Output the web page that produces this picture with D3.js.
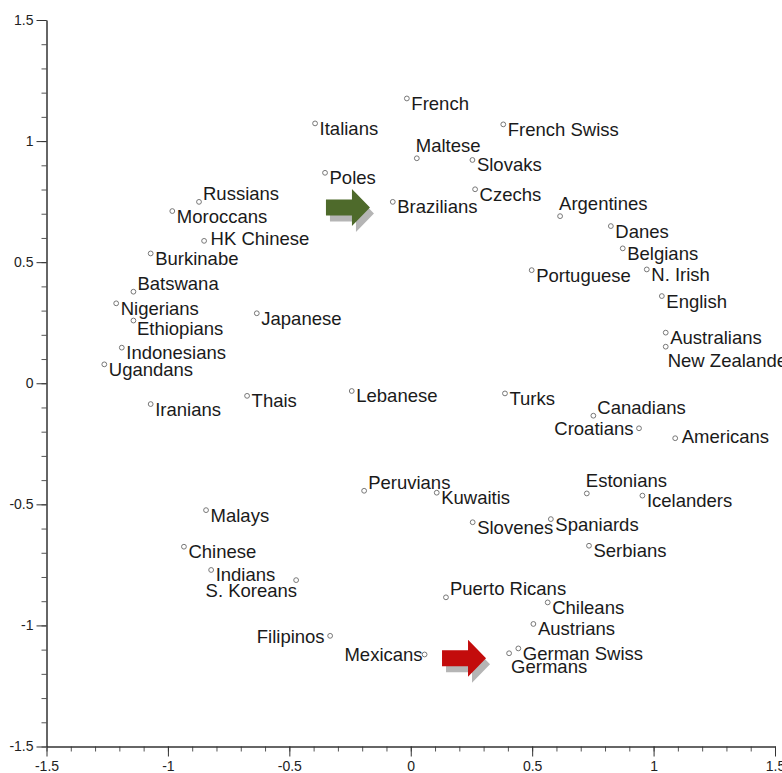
<!DOCTYPE html>
<html><head><meta charset="utf-8">
<script src="https://cdn.jsdelivr.net/npm/d3@7"></script>
<style>body{margin:0;background:#fff;} svg{display:block;}</style>
</head><body>
<script>
// ---- data ----
const countries = ["French","Italians","French Swiss","Maltese","Slovaks","Poles","Czechs","Brazilians","Russians","Moroccans",
  "Argentines","Danes","HK Chinese","Belgians","Burkinabe","Portuguese","N. Irish","Batswana","English","Nigerians",
  "Japanese","Ethiopians","Australians","New Zealanders","Indonesians","Ugandans","Lebanese","Turks","Thais","Iranians",
  "Canadians","Croatians","Americans","Peruvians","Kuwaitis","Estonians","Icelanders","Malays","Spaniards","Slovenes",
  "Serbians","Chinese","Indians","S. Koreans","Puerto Ricans","Chileans","Austrians","Filipinos","German Swiss","Germans","Mexicans"];
const dim1 = [-0.016,-0.394,0.381,0.025,0.254,-0.353,0.265,-0.074,-0.872,-0.982,
  0.615,0.824,-0.851,0.873,-1.071,0.498,0.972,-1.142,1.034,-1.213,
  -0.634,-1.142,1.050,1.050,-1.190,-1.262,-0.243,0.388,-0.674,-1.071,
  0.752,0.940,1.089,-0.192,0.107,0.725,0.954,-0.843,0.577,0.255,
  0.734,-0.934,-0.822,-0.472,0.145,0.564,0.505,-0.332,0.443,0.405,0.057];
const dim2 = [1.176,1.073,1.069,0.929,0.922,0.869,0.801,0.749,0.749,0.711,
  0.690,0.649,0.588,0.557,0.536,0.467,0.470,0.378,0.360,0.330,
  0.289,0.259,0.209,0.151,0.147,0.078,-0.032,-0.042,-0.052,-0.086,
  -0.134,-0.186,-0.227,-0.444,-0.452,-0.455,-0.464,-0.524,-0.561,-0.574,
  -0.671,-0.675,-0.771,-0.813,-0.884,-0.905,-0.994,-1.043,-1.095,-1.115,-1.120];
// label placement codes (layout, not data)
const labelPlacement = ["r","r","r","a","r","r","r","r","ur","r",
  "a","r","m","r","r","r","r","ur","r","r",
  "r","rb","r","b","r","r","r","r","r","r",
  "ur","l","m","ur","r","a","r","r","r","r",
  "r","r","r","bl","ur","r","r","l","r","b","lc"];
const xTicks = [-1.5,-1,-0.5,0,0.5,1,1.5];
const yTicks = [-1.5,-1,-0.5,0,0.5,1,1.5];
const xTickLabels = ["-1.5","-1","-0.5","0","0.5","1","1.5"];
const yTickLabels = ["-1.5","-1","-0.5","0","0.5","1","1.5"];
const minorTicks = d3.range(-15,16).map(d=>d/10);
// annotation arrows (tip positions in data units)
const arrowX = [-0.168, 0.310];
const arrowY = [0.726, -1.136];
const arrowColors = ["#4e6a2b","#c30c0c"];

// ---- layout ----
const W = 782, H = 773;
const x = d3.scaleLinear().domain([-1.5,1.5]).range([46.5,775]);
const y = d3.scaleLinear().domain([-1.5,1.5]).range([746.5,20]);
const place = {
  r:  {dx:4.5, dy:11.5, a:"start"},
  ur: {dx:4,   dy:-2,   a:"start"},
  a:  {dx:-1,  dy:-6,   a:"start"},
  m:  {dx:6.5, dy:4.5,  a:"start"},
  b:  {dx:2,   dy:20,   a:"start"},
  rb: {dx:3.5, dy:14.5, a:"start"},
  l:  {dx:-5.5,dy:7,    a:"end"},
  lc: {dx:-2,  dy:7,    a:"end"},
  bl: {dx:1,   dy:17,   a:"end"}
};

const svg = d3.select("body").append("svg").attr("width",W).attr("height",H)
  .style("font-family","'Liberation Sans', Arial, Helvetica, sans-serif");

// axes
const fmtX = d => xTickLabels[xTicks.indexOf(d)];
const fmtY = d => yTickLabels[yTicks.indexOf(d)];
function styleAxis(g){
  g.selectAll("path.domain").attr("stroke","#333").attr("stroke-width",1.5);
  g.selectAll(".tick line").attr("stroke","#333").attr("stroke-width",1);
  g.selectAll(".tick text").attr("fill","#222").style("font-size","14px")
    .style("font-family","'Liberation Sans', Arial, sans-serif");
}
// minor ticks
svg.append("g").attr("transform",`translate(0,${y(-1.5)})`)
  .call(d3.axisBottom(x).tickValues(minorTicks).tickSize(5).tickFormat(""))
  .call(g=>{g.select(".domain").remove(); g.selectAll("line").attr("stroke","#555");});
svg.append("g").attr("transform",`translate(${x(-1.5)},0)`)
  .call(d3.axisLeft(y).tickValues(minorTicks).tickSize(5).tickFormat(""))
  .call(g=>{g.select(".domain").remove(); g.selectAll("line").attr("stroke","#555");});
// major axes
svg.append("g").attr("transform",`translate(0,${y(-1.5)})`)
  .call(d3.axisBottom(x).tickValues(xTicks).tickSize(10).tickSizeOuter(0).tickPadding(5).tickFormat(fmtX))
  .call(styleAxis);
svg.append("g").attr("transform",`translate(${x(-1.5)},0)`)
  .call(d3.axisLeft(y).tickValues(yTicks).tickSize(10).tickSizeOuter(0).tickPadding(3).tickFormat(fmtY))
  .call(styleAxis);

// arrows
const arrowPath = "M0,0 L-18,-18.5 L-18,-8 L-44,-8 L-44,8 L-18,8 L-18,18.5 Z";
const arrows = svg.append("g");
arrowX.forEach((ax,i)=>{
  const g = arrows.append("g").attr("transform",`translate(${x(ax)},${y(arrowY[i])})`);
  g.append("path").attr("d",arrowPath).attr("fill","#b5b5b5").attr("transform","translate(4,6)");
  g.append("path").attr("d",arrowPath).attr("fill",arrowColors[i]);
});

// points
const pts = svg.append("g");
countries.forEach((c,i)=>{
  const px = x(dim1[i]), py = y(dim2[i]);
  pts.append("circle").attr("cx",px).attr("cy",py).attr("r",2.4)
    .attr("fill","none").attr("stroke","#777").attr("stroke-width",1);
});
const labels = svg.append("g").style("font-size","18.5px").attr("fill","#1a1a1a");
countries.forEach((c,i)=>{
  const p = place[labelPlacement[i]];
  labels.append("text").attr("x",x(dim1[i])+p.dx).attr("y",y(dim2[i])+p.dy)
    .attr("text-anchor",p.a).text(c);
});
</script>
</body></html>
